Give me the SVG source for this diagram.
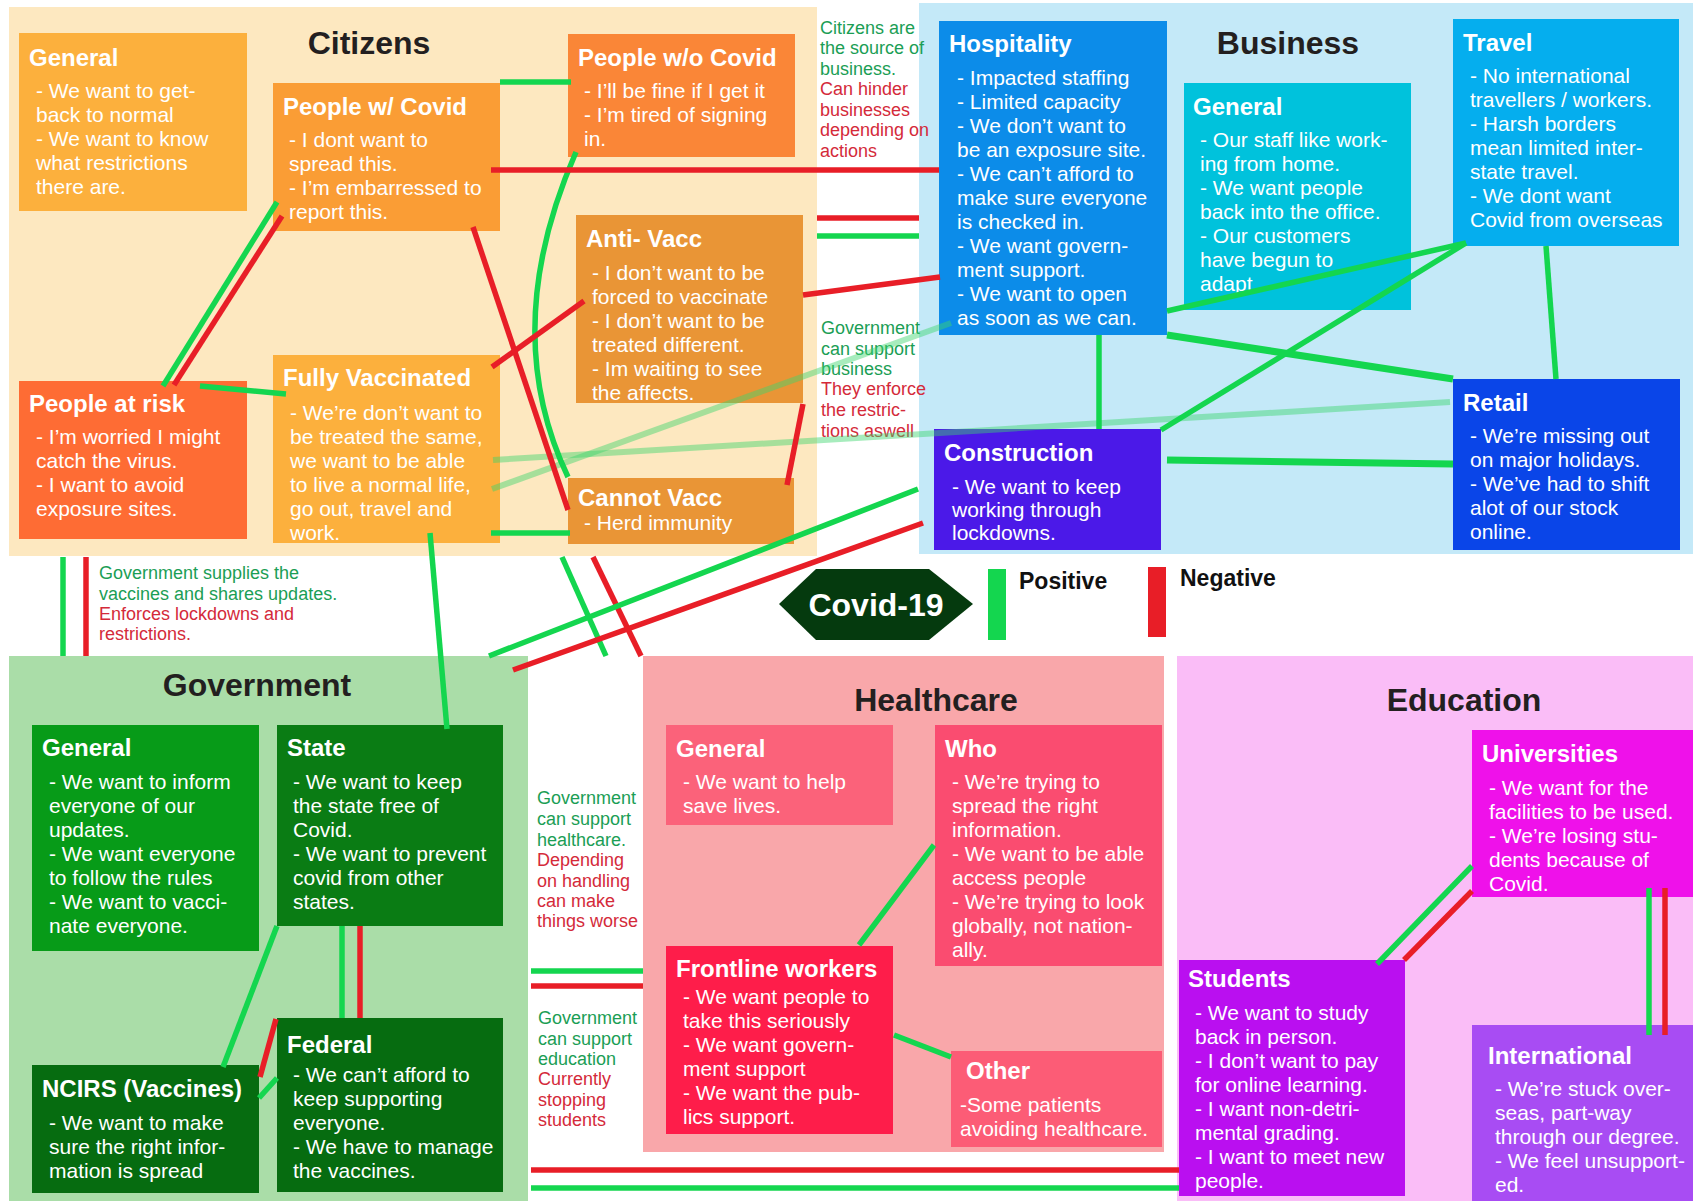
<svg xmlns="http://www.w3.org/2000/svg" width="1693" height="1201" viewBox="0 0 1693 1201">
<style>
text{font-family:"Liberation Sans",Arial,sans-serif}
.t{font-size:32px;font-weight:bold;fill:#231F20;text-anchor:middle}
.h{font-size:24px;font-weight:bold;fill:#fff}
.b{font-size:21px;fill:#fff}
.ag{font-size:18px;fill:#1B9E55}
.ar{font-size:18px;fill:#D42A3A}
.lgd{font-size:23px;font-weight:bold;fill:#111}
.g{stroke:#14D64F;stroke-width:5.5;fill:none}
.gt{stroke:#14D64F;stroke-width:7;fill:none}
.r{stroke:#E81E27;stroke-width:5.5;fill:none}
.lg{stroke:#3CD46C;stroke-width:6;opacity:.45;fill:none}
</style>
<rect width="1693" height="1201" fill="#fff"/>

<g id="panel-citizens"><rect x="9" y="7" width="808" height="549" fill="#FDE8C0"/><text class="t" x="369" y="54">Citizens</text></g>
<g id="panel-business"><rect x="919" y="3" width="774" height="551" fill="#C4E9F8"/><text class="t" x="1288" y="54">Business</text></g>
<g id="panel-government"><rect x="9" y="656" width="519" height="545" fill="#AADDA8"/><text class="t" x="257" y="696">Government</text></g>
<g id="panel-healthcare"><rect x="643" y="656" width="521" height="496" fill="#F9A7AA"/><text class="t" x="936" y="711">Healthcare</text></g>
<g id="panel-education"><rect x="1177" y="656" width="516" height="545" fill="#FABDF7"/><text class="t" x="1464" y="711">Education</text></g>

<g id="cit-general"><rect x="19" y="33" width="228" height="178" fill="#FCB03D"/>
<text class="h" x="29" y="66">General</text>
<text class="b"><tspan x="36" y="98">- We want to get-</tspan><tspan x="36" y="122">back to normal</tspan><tspan x="36" y="146">- We want to know</tspan><tspan x="36" y="170">what restrictions</tspan><tspan x="36" y="194">there are.</tspan></text></g>

<g id="cit-with-covid"><rect x="273" y="83" width="227" height="148" fill="#FA9D35"/>
<text class="h" x="283" y="115">People w/ Covid</text>
<text class="b"><tspan x="289" y="147">- I dont want to</tspan><tspan x="289" y="171">spread this.</tspan><tspan x="289" y="195">- I’m embarressed to</tspan><tspan x="289" y="219">report this.</tspan></text></g>

<g id="cit-without-covid"><rect x="568" y="34" width="227" height="123" fill="#FA8637"/>
<text class="h" x="578" y="66">People w/o Covid</text>
<text class="b"><tspan x="584" y="98">- I’ll be fine if I get it</tspan><tspan x="584" y="122">- I’m tired of signing</tspan><tspan x="584" y="146">in.</tspan></text></g>

<g id="cit-anti-vacc"><rect x="576" y="215" width="227" height="188" fill="#E99536"/>
<text class="h" x="586" y="247">Anti- Vacc</text>
<text class="b"><tspan x="592" y="280">- I don’t want to be</tspan><tspan x="592" y="304">forced to vaccinate</tspan><tspan x="592" y="328">- I don’t want to be</tspan><tspan x="592" y="352">treated different.</tspan><tspan x="592" y="376">- Im waiting to see</tspan><tspan x="592" y="400">the affects.</tspan></text></g>

<g id="cit-at-risk"><rect x="19" y="381" width="228" height="158" fill="#FE6C34"/>
<text class="h" x="29" y="412">People at risk</text>
<text class="b"><tspan x="36" y="444">- I’m worried I might</tspan><tspan x="36" y="468">catch the virus.</tspan><tspan x="36" y="492">- I want to avoid</tspan><tspan x="36" y="516">exposure sites.</tspan></text></g>

<g id="cit-fully-vacc"><rect x="273" y="355" width="227" height="188" fill="#FCB03D"/>
<text class="h" x="283" y="386">Fully Vaccinated</text>
<text class="b"><tspan x="290" y="420">- We’re don’t want to</tspan><tspan x="290" y="444">be treated the same,</tspan><tspan x="290" y="468">we want to be able</tspan><tspan x="290" y="492">to live a normal life,</tspan><tspan x="290" y="516">go out, travel and</tspan><tspan x="290" y="540">work.</tspan></text></g>

<g id="cit-cannot-vacc"><rect x="568" y="478" width="226" height="66" fill="#E99536"/>
<text class="h" x="578" y="506">Cannot Vacc</text>
<text class="b"><tspan x="584" y="530">- Herd immunity</tspan></text></g>

<g id="bus-hospitality"><rect x="939" y="21" width="228" height="314" fill="#0C8CE9"/>
<text class="h" x="949" y="52">Hospitality</text>
<text class="b"><tspan x="957" y="85">- Impacted staffing</tspan><tspan x="957" y="109">- Limited capacity</tspan><tspan x="957" y="133">- We don’t want to</tspan><tspan x="957" y="157">be an exposure site.</tspan><tspan x="957" y="181">- We can’t afford to</tspan><tspan x="957" y="205">make sure everyone</tspan><tspan x="957" y="229">is checked in.</tspan><tspan x="957" y="253">- We want govern-</tspan><tspan x="957" y="277">ment support.</tspan><tspan x="957" y="301">- We want to open</tspan><tspan x="957" y="325">as soon as we can.</tspan></text></g>

<g id="bus-general"><rect x="1184" y="83" width="227" height="227" fill="#00C2DC"/>
<text class="h" x="1193" y="115">General</text>
<text class="b"><tspan x="1200" y="147">- Our staff like work-</tspan><tspan x="1200" y="171">ing from home.</tspan><tspan x="1200" y="195">- We want people</tspan><tspan x="1200" y="219">back into the office.</tspan><tspan x="1200" y="243">- Our customers</tspan><tspan x="1200" y="267">have begun to</tspan><tspan x="1200" y="291">adapt</tspan></text></g>

<g id="bus-travel"><rect x="1453" y="19" width="226" height="227" fill="#05AEEE"/>
<text class="h" x="1463" y="51">Travel</text>
<text class="b"><tspan x="1470" y="83">- No international</tspan><tspan x="1470" y="107">travellers / workers.</tspan><tspan x="1470" y="131">- Harsh borders</tspan><tspan x="1470" y="155">mean limited inter-</tspan><tspan x="1470" y="179">state travel.</tspan><tspan x="1470" y="203">- We dont want</tspan><tspan x="1470" y="227">Covid from overseas</tspan></text></g>

<g id="bus-construction"><rect x="934" y="429" width="227" height="121" fill="#4B19E8"/>
<text class="h" x="944" y="461">Construction</text>
<text class="b"><tspan x="952" y="494">- We want to keep</tspan><tspan x="952" y="517">working through</tspan><tspan x="952" y="540">lockdowns.</tspan></text></g>

<g id="bus-retail"><rect x="1453" y="379" width="227" height="171" fill="#0A45E8"/>
<text class="h" x="1463" y="411">Retail</text>
<text class="b"><tspan x="1470" y="443">- We’re missing out</tspan><tspan x="1470" y="467">on major holidays.</tspan><tspan x="1470" y="491">- We’ve had to shift</tspan><tspan x="1470" y="515">alot of our stock</tspan><tspan x="1470" y="539">online.</tspan></text></g>

<g id="gov-general"><rect x="32" y="725" width="227" height="226" fill="#079B18"/>
<text class="h" x="42" y="756">General</text>
<text class="b"><tspan x="49" y="789">- We want to inform</tspan><tspan x="49" y="813">everyone of our</tspan><tspan x="49" y="837">updates.</tspan><tspan x="49" y="861">- We want everyone</tspan><tspan x="49" y="885">to follow the rules</tspan><tspan x="49" y="909">- We want to vacci-</tspan><tspan x="49" y="933">nate everyone.</tspan></text></g>

<g id="gov-state"><rect x="277" y="725" width="226" height="201" fill="#0A7C14"/>
<text class="h" x="287" y="756">State</text>
<text class="b"><tspan x="293" y="789">- We want to keep</tspan><tspan x="293" y="813">the state free of</tspan><tspan x="293" y="837">Covid.</tspan><tspan x="293" y="861">- We want to prevent</tspan><tspan x="293" y="885">covid from other</tspan><tspan x="293" y="909">states.</tspan></text></g>

<g id="gov-federal"><rect x="277" y="1018" width="226" height="174" fill="#066C10"/>
<text class="h" x="287" y="1053">Federal</text>
<text class="b"><tspan x="293" y="1082">- We can’t afford to</tspan><tspan x="293" y="1106">keep supporting</tspan><tspan x="293" y="1130">everyone.</tspan><tspan x="293" y="1154">- We have to manage</tspan><tspan x="293" y="1178">the vaccines.</tspan></text></g>

<g id="gov-ncirs"><rect x="32" y="1065" width="227" height="128" fill="#066C10"/>
<text class="h" x="42" y="1097">NCIRS (Vaccines)</text>
<text class="b"><tspan x="49" y="1130">- We want to make</tspan><tspan x="49" y="1154">sure the right infor-</tspan><tspan x="49" y="1178">mation is spread</tspan></text></g>

<g id="hc-general"><rect x="666" y="725" width="227" height="100" fill="#FB627A"/>
<text class="h" x="676" y="757">General</text>
<text class="b"><tspan x="683" y="789">- We want to help</tspan><tspan x="683" y="813">save lives.</tspan></text></g>

<g id="hc-who"><rect x="935" y="725" width="227" height="241" fill="#FA4C70"/>
<text class="h" x="945" y="757">Who</text>
<text class="b"><tspan x="952" y="789">- We’re trying to</tspan><tspan x="952" y="813">spread the right</tspan><tspan x="952" y="837">information.</tspan><tspan x="952" y="861">- We want to be able</tspan><tspan x="952" y="885">access people</tspan><tspan x="952" y="909">- We’re trying to look</tspan><tspan x="952" y="933">globally, not nation-</tspan><tspan x="952" y="957">ally.</tspan></text></g>

<g id="hc-frontline"><rect x="666" y="946" width="227" height="188" fill="#FE1D4A"/>
<text class="h" x="676" y="977">Frontline workers</text>
<text class="b"><tspan x="683" y="1004">- We want people to</tspan><tspan x="683" y="1028">take this seriously</tspan><tspan x="683" y="1052">- We want govern-</tspan><tspan x="683" y="1076">ment support</tspan><tspan x="683" y="1100">- We want the pub-</tspan><tspan x="683" y="1124">lics support.</tspan></text></g>

<g id="hc-other"><rect x="951" y="1051" width="211" height="96" fill="#FC5C76"/>
<text class="h" x="966" y="1079">Other</text>
<text class="b"><tspan x="960" y="1112">-Some patients</tspan><tspan x="960" y="1136">avoiding healthcare.</tspan></text></g>

<g id="edu-universities"><rect x="1472" y="730" width="221" height="167" fill="#EF11EA"/>
<text class="h" x="1482" y="762">Universities</text>
<text class="b"><tspan x="1489" y="795">- We want for the</tspan><tspan x="1489" y="819">facilities to be used.</tspan><tspan x="1489" y="843">- We’re losing stu-</tspan><tspan x="1489" y="867">dents because of</tspan><tspan x="1489" y="891">Covid.</tspan></text></g>

<g id="edu-students"><rect x="1179" y="960" width="226" height="236" fill="#BA0FF0"/>
<text class="h" x="1188" y="987">Students</text>
<text class="b"><tspan x="1195" y="1020">- We want to study</tspan><tspan x="1195" y="1044">back in person.</tspan><tspan x="1195" y="1068">- I don’t want to pay</tspan><tspan x="1195" y="1092">for online learning.</tspan><tspan x="1195" y="1116">- I want non-detri-</tspan><tspan x="1195" y="1140">mental grading.</tspan><tspan x="1195" y="1164">- I want to meet new</tspan><tspan x="1195" y="1188">people.</tspan></text></g>

<g id="edu-international"><rect x="1472" y="1025" width="221" height="176" fill="#A84CF3"/>
<text class="h" x="1488" y="1064">International</text>
<text class="b"><tspan x="1495" y="1096">- We’re stuck over-</tspan><tspan x="1495" y="1120">seas, part-way</tspan><tspan x="1495" y="1144">through our degree.</tspan><tspan x="1495" y="1168">- We feel unsupport-</tspan><tspan x="1495" y="1192">ed.</tspan></text></g>

<g id="covid19"><polygon points="779,604 816,569 929,569 973,604 929,640 816,640" fill="#053A0E"/>
<text x="876" y="616" font-size="32" font-weight="bold" fill="#fff" text-anchor="middle">Covid-19</text></g>

<g id="legend"><rect x="988" y="569" width="18" height="71" fill="#14D64F"/><text class="lgd" x="1019" y="589">Positive</text>
<rect x="1148" y="567" width="18" height="70" fill="#E81E27"/><text class="lgd" x="1180" y="586">Negative</text></g>

<g id="labels">
<text><tspan class="ag" x="820" y="34">Citizens are</tspan><tspan class="ag" x="820" y="54">the source of</tspan><tspan class="ag" x="820" y="75">business.</tspan><tspan class="ar" x="820" y="95">Can hinder</tspan><tspan class="ar" x="820" y="116">businesses</tspan><tspan class="ar" x="820" y="136">depending on</tspan><tspan class="ar" x="820" y="157">actions</tspan></text>
<text><tspan class="ag" x="821" y="334">Government</tspan><tspan class="ag" x="821" y="355">can support</tspan><tspan class="ag" x="821" y="375">business</tspan><tspan class="ar" x="821" y="395">They enforce</tspan><tspan class="ar" x="821" y="416">the restric-</tspan><tspan class="ar" x="821" y="437">tions aswell</tspan></text>
<text><tspan class="ag" x="99" y="579">Government supplies the</tspan><tspan class="ag" x="99" y="600">vaccines and shares updates.</tspan><tspan class="ar" x="99" y="620">Enforces lockdowns and</tspan><tspan class="ar" x="99" y="640">restrictions.</tspan></text>
<text><tspan class="ag" x="537" y="804">Government</tspan><tspan class="ag" x="537" y="825">can support</tspan><tspan class="ag" x="537" y="846">healthcare.</tspan><tspan class="ar" x="537" y="866">Depending</tspan><tspan class="ar" x="537" y="887">on handling</tspan><tspan class="ar" x="537" y="907">can make</tspan><tspan class="ar" x="537" y="927">things worse</tspan></text>
<text><tspan class="ag" x="538" y="1024">Government</tspan><tspan class="ag" x="538" y="1045">can support</tspan><tspan class="ag" x="538" y="1065">education</tspan><tspan class="ar" x="538" y="1085">Currently</tspan><tspan class="ar" x="538" y="1106">stopping</tspan><tspan class="ar" x="538" y="1126">students</tspan></text>
</g>

<g id="connectors">
<line class="lg" x1="493" y1="460" x2="1450" y2="402"/>
<line class="lg" x1="492" y1="489" x2="951" y2="323"/>
<line class="g" x1="277" y1="202" x2="163" y2="386"/>
<line class="r" x1="282" y1="216" x2="174" y2="385"/>
<line class="g" x1="200" y1="386" x2="286" y2="394"/>
<line class="g" x1="500" y1="82" x2="571" y2="82"/>
<path class="g" d="M576,152 Q498,330 568,477"/>
<line class="g" x1="491" y1="533" x2="570" y2="533"/>
<line class="g" x1="430" y1="533" x2="447" y2="729"/>
<line class="r" x1="491" y1="170" x2="939" y2="170"/>
<line class="r" x1="473" y1="227" x2="568" y2="510"/>
<line class="r" x1="492" y1="367" x2="584" y2="301"/>
<line class="r" x1="803" y1="295" x2="940" y2="277"/>
<line class="r" x1="803" y1="404" x2="787" y2="485"/>
<line class="r" x1="817" y1="218" x2="919" y2="218"/>
<line class="g" x1="817" y1="236" x2="919" y2="236"/>
<line class="g" x1="63" y1="557" x2="63" y2="656"/>
<line class="r" x1="86" y1="557" x2="86" y2="656"/>
<line class="g" x1="562" y1="557" x2="606" y2="656"/>
<line class="r" x1="593" y1="557" x2="641" y2="656"/>
<line class="g" x1="489" y1="656" x2="918" y2="489"/>
<line class="r" x1="513" y1="670" x2="923" y2="523"/>
<line class="g" x1="1167" y1="311" x2="1466" y2="243"/>
<line class="g" x1="1161" y1="430" x2="1466" y2="243"/>
<line class="gt" x1="1167" y1="335" x2="1453" y2="379"/>
<line class="g" x1="1099" y1="335" x2="1099" y2="429"/>
<line class="gt" x1="1167" y1="460" x2="1453" y2="464"/>
<line class="g" x1="1546" y1="246" x2="1556" y2="379"/>
<line class="g" x1="531" y1="971" x2="643" y2="971"/>
<line class="r" x1="531" y1="986" x2="643" y2="986"/>
<line class="r" x1="531" y1="1170" x2="1179" y2="1170"/>
<line class="g" x1="531" y1="1188" x2="1179" y2="1188"/>
<line class="g" x1="277" y1="926" x2="223" y2="1067"/>
<line class="g" x1="342" y1="926" x2="342" y2="1018"/>
<line class="r" x1="360" y1="926" x2="360" y2="1018"/>
<line class="r" x1="276" y1="1019" x2="260" y2="1077"/>
<line class="g" x1="259" y1="1098" x2="277" y2="1078"/>
<line class="g" x1="934" y1="845" x2="859" y2="945"/>
<line class="g" x1="894" y1="1035" x2="951" y2="1057"/>
<line class="g" x1="1472" y1="866" x2="1377" y2="964"/>
<line class="r" x1="1472" y1="891" x2="1404" y2="960"/>
<line class="g" x1="1649" y1="888" x2="1649" y2="1035"/>
<line class="r" x1="1665" y1="888" x2="1665" y2="1035"/>
</g>
</svg>
